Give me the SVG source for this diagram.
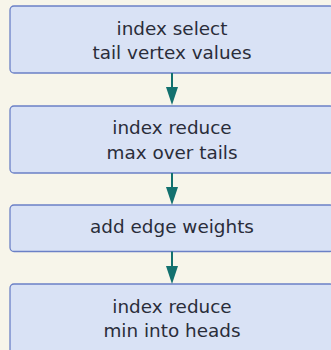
<svg xmlns="http://www.w3.org/2000/svg" width="331" height="350" viewBox="0 0 331 350">
<defs>
<style>
.box{fill:#d9e2f5;stroke:#6b80c6;stroke-width:1.3}
.t{font-family:"DejaVu Sans",sans-serif;font-size:18.4px;fill:#2a2d3a;text-anchor:middle}
.c{stroke:#13716f;stroke-width:2;fill:none}
.h{fill:#13716f}
</style>
</defs>
<rect width="331" height="350" fill="#f7f5ea"/>
<g id="n1"><rect class="box" x="10" y="6" width="324" height="67" rx="4"/>
<text class="t" x="172" y="34.7">index select</text><text class="t" x="172" y="59.3">tail vertex values</text></g>
<g id="n2"><rect class="box" x="10" y="106" width="324" height="67" rx="4"/>
<text class="t" x="172" y="134.3">index reduce</text><text class="t" x="172" y="159.3">max over tails</text></g>
<g id="n3"><rect class="box" x="10" y="205" width="324" height="46.5" rx="4"/>
<text class="t" x="172" y="233.3">add edge weights</text></g>
<g id="n4"><rect class="box" x="10" y="284" width="324" height="80" rx="4"/>
<text class="t" x="172" y="312.7">index reduce</text><text class="t" x="172" y="337.3">min into heads</text></g>
<g id="connectors">
<line class="c" x1="172" y1="73" x2="172" y2="90"/><polygon class="h" points="166,87 178,87 172,105"/>
<line class="c" x1="172" y1="173" x2="172" y2="190"/><polygon class="h" points="166,187 178,187 172,205"/>
<line class="c" x1="172" y1="251.5" x2="172" y2="268"/><polygon class="h" points="166,266 178,266 172,284"/>
</g>
</svg>
